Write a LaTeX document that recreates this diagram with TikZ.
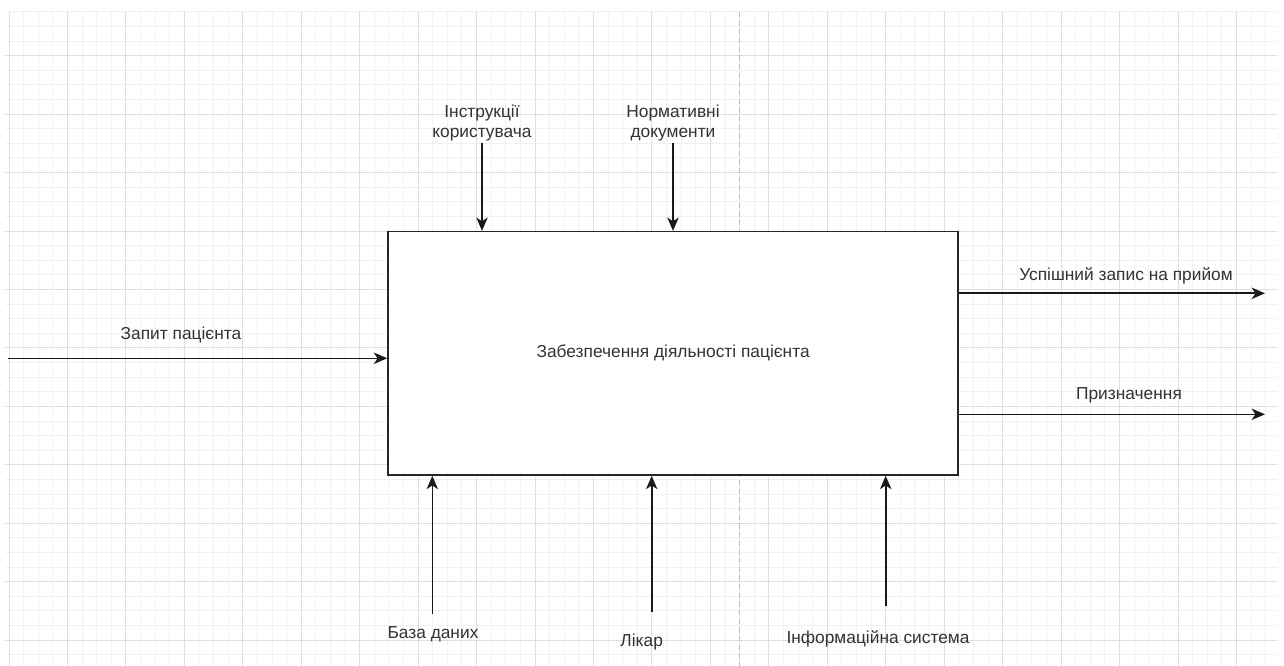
\documentclass[tikz,border=0pt]{standalone}
\usepackage{fontspec}
\setmainfont{Liberation Sans}
\usetikzlibrary{arrows.meta}
\definecolor{gridminor}{HTML}{F1F1F1}
\definecolor{gridmajor}{HTML}{DEDEDE}
\definecolor{pagebreak}{HTML}{BDBDBD}
\definecolor{txt}{HTML}{333333}
\begin{document}
\begin{tikzpicture}[x=0.75pt,y=-0.75pt,
  flow/.style={draw=black!90, line width=1.2pt,
    -{Stealth[length=10pt,width=8.5pt,inset=2.8pt]}},
  lbl/.style={text=txt, font=\fontsize{13pt}{15.5pt}\selectfont,
    inner sep=0pt, align=center},
  func/.style={draw=black!85, line width=1.2pt, fill=white,
    minimum width=427.7pt, minimum height=182.5pt, inner sep=0pt,
    text=txt, font=\fontsize{13pt}{15.5pt}\selectfont}]

% canvas
\fill[white] (0,0) rectangle (1284,666);
\useasboundingbox (0,0) rectangle (1284,666);

% background grid (minor lines first, major lines on top)
\begin{scope}
  \clip (5,12) rectangle (1277,666);
  \foreach \k in {0,...,86}{
    \pgfmathsetmacro\xx{9+\k*14.6125}
    \pgfmathtruncatemacro\m{mod(\k,4)}
    \ifnum\m=0\else
      \draw[gridminor, line width=0.75pt] (\xx,12) -- (\xx,666);
    \fi}
  \foreach \k in {-3,...,41}{
    \pgfmathsetmacro\yy{55.7+\k*14.6125}
    \pgfmathtruncatemacro\m{mod(\k+40,4)}
    \ifnum\m=0\else
      \draw[gridminor, line width=0.75pt] (5,\yy) -- (1277,\yy);
    \fi}
  \foreach \k in {0,4,...,84}{
    \pgfmathsetmacro\xx{9+\k*14.6125}
    \draw[gridmajor, line width=0.75pt] (\xx,12) -- (\xx,666);}
  \foreach \k in {0,4,...,40}{
    \pgfmathsetmacro\yy{55.7+\k*14.6125}
    \draw[gridmajor, line width=0.75pt] (5,\yy) -- (1277,\yy);}
\end{scope}

% page break
\draw[pagebreak, line width=0.75pt, dash pattern=on 4pt off 2.5pt] (739,12) -- (739,666);

% function block
\node[func] (box) at (673.15,353.35) {Забезпечення діяльності пацієнта};

% controls
\node[lbl] (ctl1) at (482,123) {Інструкції\\користувача};
\node[lbl] (ctl2) at (673,123) {Нормативні\\документи};
\coordinate (c1) at (482,143);
\coordinate (c2) at (673,143);
\draw[flow] (c1) -- (c1 |- box.north);
\draw[flow] (c2) -- (c2 |- box.north);

% input
\node[lbl] (inp) at (181,335) {Запит пацієнта};
\coordinate (i1) at (8,358.3);
\draw[flow] (i1) -- (i1 -| box.west);

% outputs
\node[lbl] (out1) at (1126,276) {Успішний запис на прийом};
\node[lbl] (out2) at (1129,395) {Призначення};
\coordinate (o1) at (1265,293.3);
\coordinate (o2) at (1265,414.3);
\draw[flow] (o1 -| box.east) -- (o1);
\draw[flow] (o2 -| box.east) -- (o2);

% mechanisms
\node[lbl] (m1) at (433,634) {База даних};
\node[lbl] (m2) at (641.7,642) {Лікар};
\node[lbl] (m3) at (878,639) {Інформаційна система};
\coordinate (b1) at (432.3,614);
\coordinate (b2) at (651.7,612);
\coordinate (b3) at (885.7,606);
\draw[flow] (b1) -- (b1 |- box.south);
\draw[flow] (b2) -- (b2 |- box.south);
\draw[flow] (b3) -- (b3 |- box.south);
\end{tikzpicture}
\end{document}
